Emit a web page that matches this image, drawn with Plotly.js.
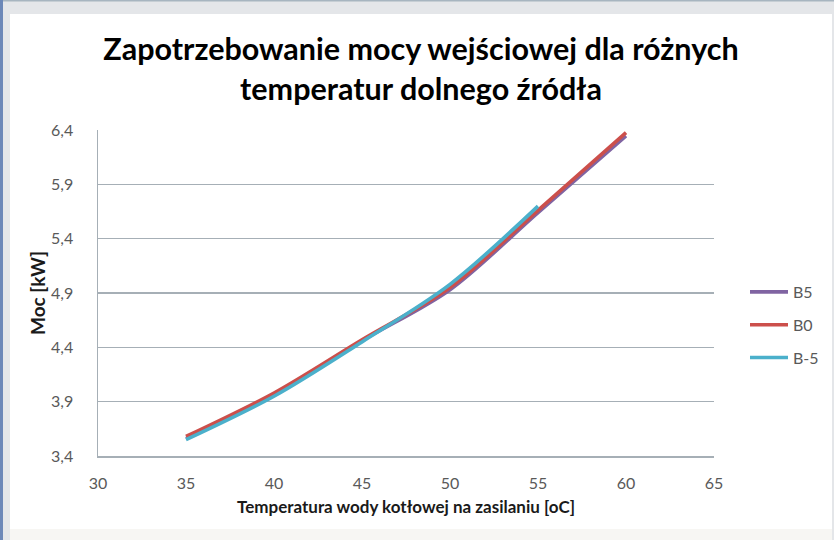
<!DOCTYPE html>
<html>
<head>
<meta charset="utf-8">
<script src="https://cdn.plot.ly/plotly-3.0.1.min.js"></script>
<style>
  html, body { margin: 0; padding: 0; background: #E4E6E9; }
  #chart { width: 834px; height: 540px; }
</style>
</head>
<body>
<div id="chart"></div>
<script>
// ---- data ----
const temps = [35, 40, 45, 50, 55, 60];
const tempsBm5 = [35, 40, 45, 50, 55];
const seriesNames = ['B5', 'B0', 'B-5'];
const valuesB5 = [3.56, 3.96, 4.46, 4.93, 5.64, 6.345];
const valuesB0 = [3.58, 3.98, 4.47, 4.95, 5.66, 6.375];
const valuesBm5 = [3.55, 3.95, 4.45, 4.98, 5.70];
const yTickVals = [3.4, 3.9, 4.4, 4.9, 5.4, 5.9, 6.4];
const yTickText = ['3,4', '3,9', '4,4', '4,9', '5,4', '5,9', '6,4'];
const xTickVals = [30, 35, 40, 45, 50, 55, 60, 65];
const xTickText = ['30', '35', '40', '45', '50', '55', '60', '65'];
const chartTitle = 'Zapotrzebowanie mocy wejściowej dla różnych<br>temperatur dolnego źródła';
const xTitle = 'Temperatura wody kotłowej na zasilaniu [oC]';
const yTitle = 'Moc [kW]';

// ---- geometry helpers (pixel -> paper) ----
const W = 834, H = 540;
const M = { l: 98, r: 120, t: 130, b: 84 };
const PW = W - M.l - M.r, PH = H - M.t - M.b;
const px = v => (v - M.l) / PW;
const py = v => (H - M.b - v) / PH;

const colors = ['#8064A2', '#CC4F4B', '#4BB0CB'];
const FONT = 'Lato, "Open Sans", sans-serif';

function line(x, y, name, color, idx) {
  return {
    type: 'scatter', mode: 'lines', x: x, y: y, name: name,
    legendgroup: 'g' + idx,
    line: { color: color, width: 3.6, shape: 'spline', smoothing: 0.9 },
    hoverinfo: 'skip'
  };
}

const traces = [
  line(temps, valuesB5, seriesNames[0], colors[0], 0),
  line(temps, valuesB0, seriesNames[1], colors[1], 1),
  line(tempsBm5, valuesBm5, seriesNames[2], colors[2], 2)
];

const gridColor = '#A6AFB6';

const layout = {
  width: W, height: H,
  margin: Object.assign({ autoexpand: false }, M),
  paper_bgcolor: '#E4E6E9',
  plot_bgcolor: 'rgba(0,0,0,0)',
  font: { family: FONT, color: '#595959', size: 16 },
  title: {
    text: chartTitle,
    font: { family: FONT, size: 30.5, weight: 700, color: '#000000' },
    xref: 'paper', x: px(421), xanchor: 'center',
    yref: 'container', y: 1 - 60 / H, yanchor: 'top'
  },
  showlegend: true,
  legend: {
    x: px(745), xanchor: 'left',
    y: py(275), yanchor: 'top',
    bgcolor: 'rgba(0,0,0,0)',
    font: { family: FONT, size: 16, color: '#595959' },
    tracegroupgap: 9,
    traceorder: 'grouped',
    itemwidth: 38
  },
  xaxis: {
    range: [30, 65],
    tickvals: xTickVals, ticktext: xTickText,
    showgrid: false, zeroline: false,
    showline: true, linecolor: gridColor, linewidth: 1.5,
    ticks: '', ticklabelstandoff: 12,
    tickfont: { family: FONT, size: 16, color: '#595959' },
    title: { text: xTitle, font: { family: FONT, size: 17, weight: 700, color: '#1a1a1a' }, standoff: 10 },
    fixedrange: true
  },
  yaxis: {
    range: [3.4, 6.4],
    tickvals: yTickVals, ticktext: yTickText,
    showgrid: true, gridcolor: gridColor, gridwidth: 1.3,
    zeroline: false,
    showline: true, linecolor: gridColor, linewidth: 1.5,
    ticks: '', ticklabelstandoff: 20,
    tickfont: { family: FONT, size: 16, color: '#595959' },
    title: { text: yTitle, font: { family: FONT, size: 19, weight: 700, color: '#1a1a1a' }, standoff: 0 },
    fixedrange: true
  },
  shapes: [
    { type: 'rect', xref: 'paper', yref: 'paper', layer: 'below',
      x0: px(10), x1: px(832), y0: py(529), y1: py(14),
      fillcolor: '#FFFFFF', line: { width: 0 } },
    { type: 'rect', xref: 'paper', yref: 'paper', layer: 'below',
      x0: px(10), x1: px(832), y0: py(540), y1: py(529),
      fillcolor: '#F7F6F3', line: { width: 0 } },
    { type: 'rect', xref: 'paper', yref: 'paper', layer: 'below',
      x0: px(0), x1: px(3), y0: py(540), y1: py(0),
      fillcolor: '#6C88B8', line: { width: 0 } },
    { type: 'rect', xref: 'paper', yref: 'paper', layer: 'below',
      x0: px(3), x1: px(834), y0: py(1.5), y1: py(0),
      fillcolor: '#A7B5C0', line: { width: 0 } }
  ]
};

Plotly.newPlot('chart', traces, layout, { displayModeBar: false, staticPlot: true });
</script>
</body>
</html>
